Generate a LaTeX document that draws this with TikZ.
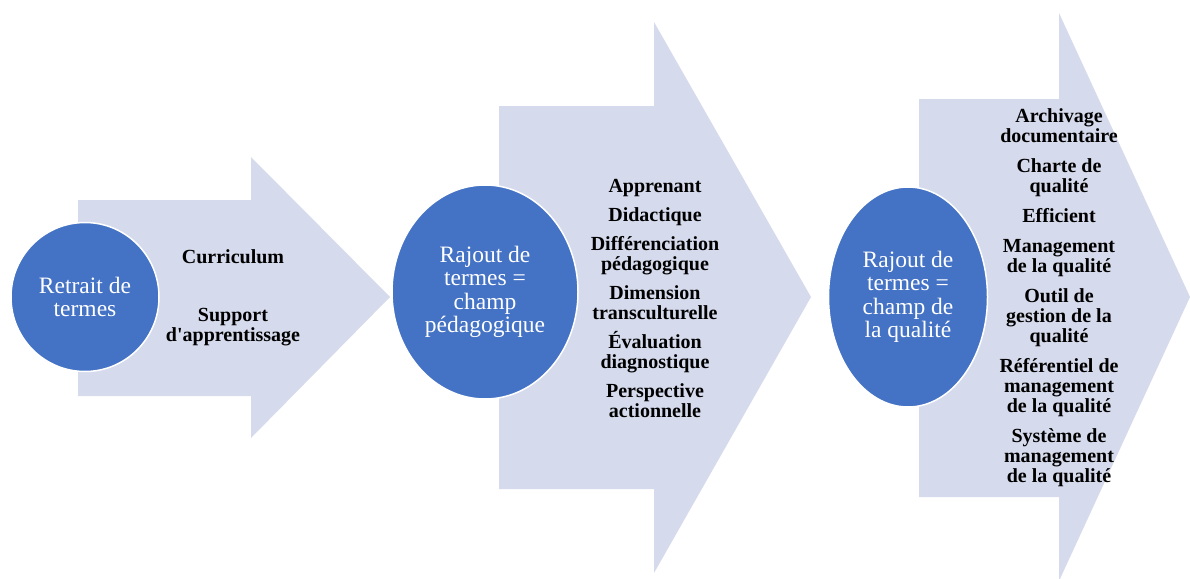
\documentclass[tikz,border=0pt]{standalone}
\usepackage{fontspec}
\setmainfont{Liberation Serif}
\usetikzlibrary{shapes.geometric}
\definecolor{pale}{HTML}{D5DAEC}
\definecolor{disc}{HTML}{4472C4}

\begin{document}
\begin{tikzpicture}[x=1pt,y=-1pt,
 stage/.style={ellipse,fill=disc,draw=white,line width=1.5pt,text=white,
  align=center,inner sep=0pt,font=\fontsize{23.5}{23.5}\selectfont},
 terms/.style={align=center,inner sep=0pt,font=\bfseries\fontsize{20}{20}\selectfont}]
\useasboundingbox (0,0) rectangle (1190,578);
\fill[pale] (78,200) -- (251,200) -- (251,157) -- (390,297) -- (251,438)
 -- (251,396) -- (78,396) -- cycle;
\fill[pale] (499,106) -- (654,106) -- (654,22) -- (811,297) -- (654,573)
 -- (654,489) -- (499,489) -- cycle;
\fill[pale] (919,99) -- (1059,99) -- (1059,13) -- (1190,297) -- (1059,581)
 -- (1059,497) -- (919,497) -- cycle;
\node[stage,minimum width=148pt,minimum height=149pt] (retrait) at (85,297)
 {Retrait de\\termes};
\node[stage,minimum width=186pt,minimum height=214pt] (pedago) at (485,292)
 {Rajout de\\termes =\\champ\\pédagogique};
\node[stage,minimum width=159pt,minimum height=220pt] (qualite) at (908,297)
 {Rajout de\\termes =\\champ de\\la qualité};
\node[terms] (retires) at (233,298)
 {Curriculum\\[38pt]Support\\d\textquotesingle apprentissage};
\node[terms] (ajoutsA) at (655,298)
 {Apprenant\\[9pt]Didactique\\[9pt]Différenciation\\pédagogique\\[9pt]Dimension\\
  transculturelle\\[9pt]Évaluation\\diagnostique\\[9pt]Perspective\\actionnelle};
\node[terms] (ajoutsB) at (1059,298)
 {Archivage\\documentaire\\[10pt]Charte de\\qualité\\[10pt]Efficient\\[10pt]Management\\
  de la qualité\\[10pt]Outil de\\gestion de la\\qualité\\[10pt]Référentiel de\\
  management\\de la qualité\\[10pt]Système de\\management\\de la qualité};
\end{tikzpicture}
\end{document}
